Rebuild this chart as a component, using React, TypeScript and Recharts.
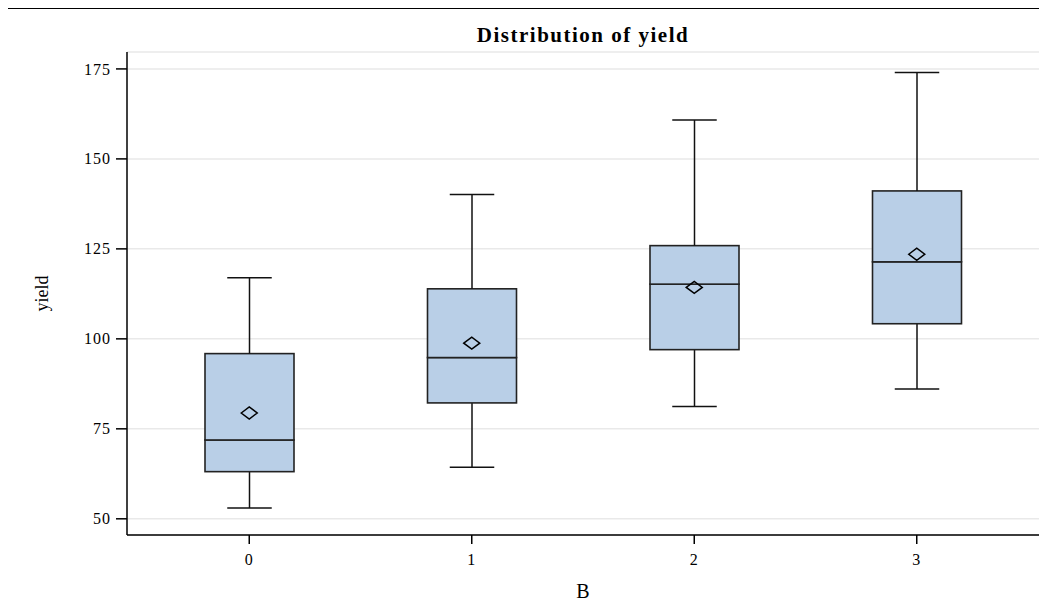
import React from 'react'
import { ComposedChart, Bar, Scatter, XAxis, YAxis, CartesianGrid, Label } from 'recharts'

const categories = ['0', '1', '2', '3']
const whiskerLow = [53, 64.3, 81.2, 86.1]
const q1 = [63.1, 82.2, 97.0, 104.2]
const median = [71.9, 94.8, 115.2, 121.4]
const q3 = [95.9, 113.9, 125.9, 141.1]
const whiskerHigh = [117.0, 140.1, 160.8, 174.0]
const means = [79.4, 98.8, 114.3, 123.5]
const yTicks = [50, 75, 100, 125, 150, 175]

const data = categories.map((name, i) => ({
  name,
  base: whiskerLow[i],
  lowWhisker: q1[i] - whiskerLow[i],
  lowBox: median[i] - q1[i],
  highBox: q3[i] - median[i],
  highWhisker: whiskerHigh[i] - q3[i],
  mean: means[i]
}))

const FONT = 'Liberation Serif'
const BOX_FILL = '#b9cfe7'

const BoxShape = (props: any) => {
  const { x, y, width, height } = props
  return <rect x={x} y={y} width={width} height={height} fill={BOX_FILL} stroke="#222" strokeWidth={1.6} />
}

const LowWhisker = (props: any) => {
  const { x, y, width, height } = props
  const cx = x + width / 2
  const cap = width / 4
  return (
    <g stroke="#111" strokeWidth={1.5}>
      <line x1={cx} y1={y} x2={cx} y2={y + height} />
      <line x1={cx - cap} y1={y + height} x2={cx + cap} y2={y + height} />
    </g>
  )
}

const HighWhisker = (props: any) => {
  const { x, y, width, height } = props
  const cx = x + width / 2
  const cap = width / 4
  return (
    <g stroke="#111" strokeWidth={1.5}>
      <line x1={cx} y1={y} x2={cx} y2={y + height} />
      <line x1={cx - cap} y1={y} x2={cx + cap} y2={y} />
    </g>
  )
}

const Diamond = (props: any) => {
  const { cx, cy } = props
  return (
    <polygon
      points={`${cx - 8},${cy} ${cx},${cy - 6} ${cx + 8},${cy} ${cx},${cy + 6}`}
      fill="none"
      stroke="#000"
      strokeWidth={1.5}
    />
  )
}

const XTick = (props: any) => {
  const { x, y, payload } = props
  return (
    <text x={x} y={y} dy="0.7em" textAnchor="middle" fill="#000" fontSize={16} fontFamily={FONT} letterSpacing={1}>
      {payload.value}
    </text>
  )
}

const YTick = (props: any) => {
  const { x, y, payload } = props
  return (
    <text x={x} y={y} dy="0.35em" textAnchor="end" fill="#000" fontSize={16} fontFamily={FONT} letterSpacing={1}>
      {payload.value}
    </text>
  )
}

const YLabel = (props: any) => {
  const { viewBox } = props
  const x = viewBox.x + 43
  const y = viewBox.y + viewBox.height / 2
  return (
    <text x={x} y={y} transform={`rotate(-90, ${x}, ${y})`} textAnchor="middle" dy="0.3em" fill="#000" fontSize={18} fontFamily={FONT}>
      yield
    </text>
  )
}

const XLabel = (props: any) => {
  const { viewBox } = props
  const x = viewBox.x + viewBox.width / 2
  const y = viewBox.y + viewBox.height - 15
  return (
    <text x={x} y={y} textAnchor="middle" fill="#000" fontSize={20} fontFamily={FONT}>
      B
    </text>
  )
}

const lineStyle = { stroke: '#000', strokeWidth: 1.5 }

export default function App () {
  return (
    <div style={{ position: 'relative', left: -8, top: -8, width: 1047, height: 613, background: '#fff' }}>
      <div style={{ position: 'absolute', left: 7, top: 8, width: 1040, height: 605, borderLeft: '1.5px solid #000', borderTop: '1.5px solid #000' }} />
      <div style={{ position: 'absolute', left: 127, top: 23, width: 912, textAlign: 'center', fontFamily: FONT, fontWeight: 'bold', fontSize: 21, letterSpacing: 1.5, lineHeight: 'normal' }}>
        Distribution of yield
      </div>
      <div style={{ position: 'absolute', left: 0, top: 0 }}>
        <ComposedChart width={1047} height={613} data={data} margin={{ top: 52, right: 8, bottom: 0, left: 0 }}>
          <CartesianGrid vertical={false} stroke="#e9e9e9" strokeWidth={1.5} />
          <XAxis
            dataKey="name"
            height={78}
            padding={{ left: 11, right: 11 }}
            tick={XTick}
            tickSize={9}
            tickMargin={10}
            axisLine={lineStyle}
            tickLine={lineStyle}
          >
            <Label content={XLabel} />
          </XAxis>
          <XAxis xAxisId="top" orientation="top" dataKey="name" height={0} tick={false} tickLine={false} axisLine={lineStyle} />
          <YAxis
            width={127}
            domain={[45.5, 179.7]}
            ticks={yTicks}
            allowDataOverflow
            tick={YTick}
            tickSize={11}
            tickMargin={5}
            axisLine={lineStyle}
            tickLine={lineStyle}
          >
            <Label content={YLabel} />
          </YAxis>
          <YAxis yAxisId="right" orientation="right" width={0} domain={[45.5, 179.7]} tick={false} tickLine={false} axisLine={lineStyle} />
          <Bar dataKey="base" stackId="box" barSize={89} fill="transparent" isAnimationActive={false} />
          <Bar dataKey="lowWhisker" stackId="box" barSize={89} shape={LowWhisker} isAnimationActive={false} />
          <Bar dataKey="lowBox" stackId="box" barSize={89} shape={BoxShape} isAnimationActive={false} />
          <Bar dataKey="highBox" stackId="box" barSize={89} shape={BoxShape} isAnimationActive={false} />
          <Bar dataKey="highWhisker" stackId="box" barSize={89} shape={HighWhisker} isAnimationActive={false} />
          <Scatter dataKey="mean" shape={Diamond} isAnimationActive={false} />
        </ComposedChart>
      </div>
    </div>
  )
}
